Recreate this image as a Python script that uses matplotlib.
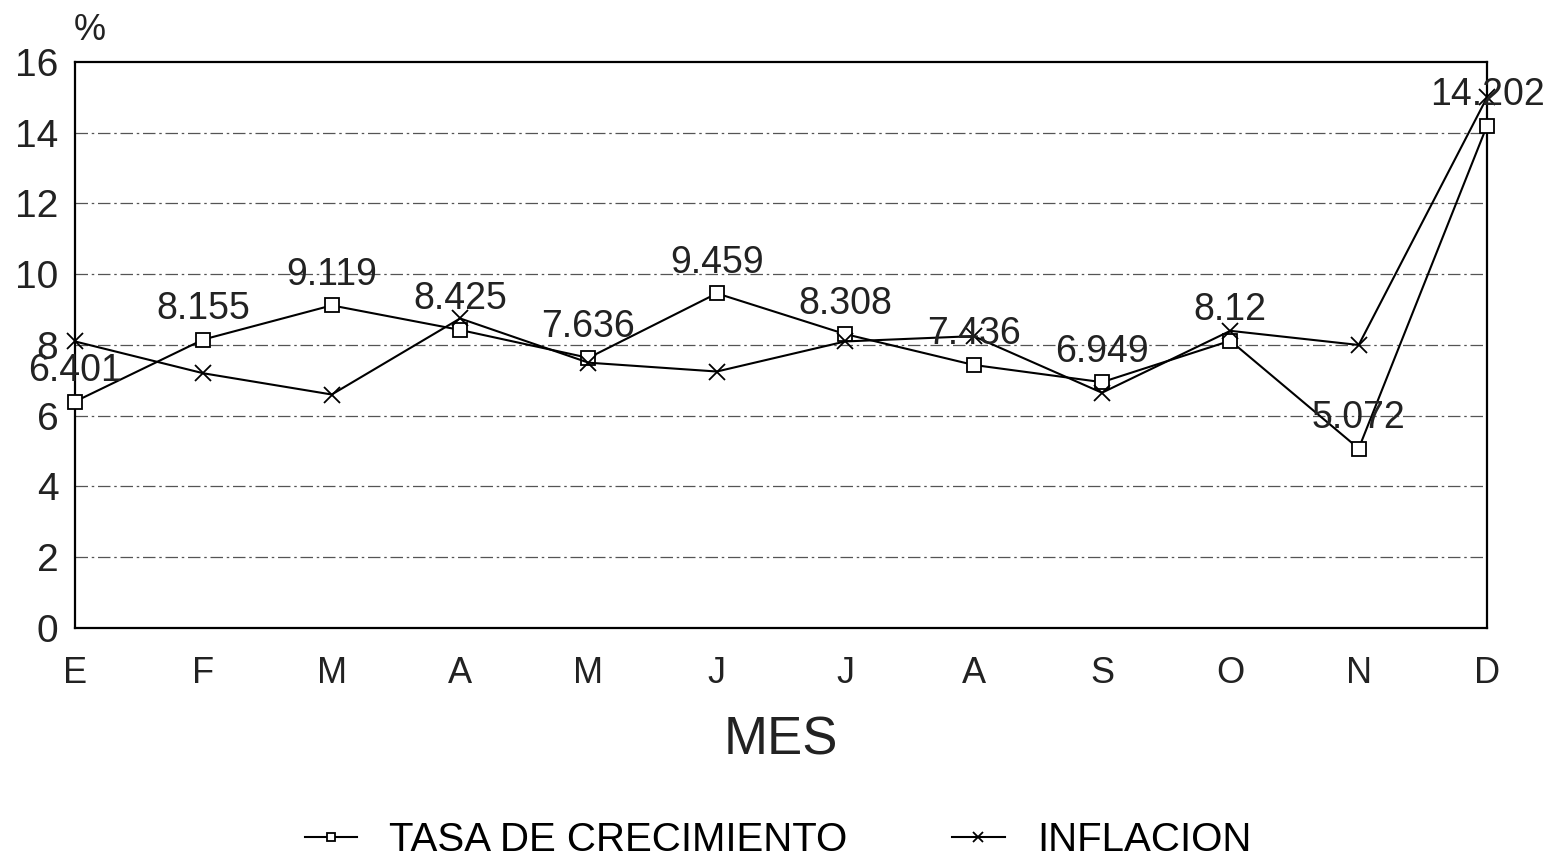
import matplotlib
matplotlib.use("Agg")
import matplotlib.pyplot as plt

months = ["E", "F", "M", "A", "M", "J", "J", "A", "S", "O", "N", "D"]
tasa = [6.401, 8.155, 9.119, 8.425, 7.636, 9.459, 8.308, 7.436, 6.949, 8.12, 5.072, 14.202]
inflacion = [8.1, 7.2, 6.6, 8.75, 7.5, 7.25, 8.1, 8.25, 6.65, 8.4, 8.0, 15.0]
yticks = [0, 2, 4, 6, 8, 10, 12, 14, 16]

plt.rcParams['font.family'] = ['Liberation Sans', 'DejaVu Sans']

fig = plt.figure(figsize=(15.56, 8.63), dpi=100)
ax = fig.add_axes([0.0482, 0.2723, 0.9075, 0.6559])

x = list(range(len(months)))
ax.plot(x, tasa, color='black', lw=1.5, marker='s', markersize=10,
        markerfacecolor='white', markeredgecolor='black', markeredgewidth=1.3,
        label='TASA DE CRECIMIENTO', zorder=3, clip_on=False)
ax.plot(x, inflacion, color='black', lw=1.5, marker='x', markersize=12,
        markeredgewidth=1.3, label='INFLACION', zorder=3, clip_on=False)

for xi, v in zip(x, tasa):
    ax.annotate(f"{v:g}", (xi, v), xytext=(0, 22), textcoords='offset points',
                ha='center', va='center', fontsize=27, color='#222222', zorder=4)

ax.set_xlim(0, 11)
ax.set_ylim(0, 16)
ax.set_yticks(yticks)
ax.set_yticklabels([str(t) for t in yticks], fontsize=28, color='#222222')
ax.set_xticks(x)
ax.set_xticklabels(months, fontsize=26, color='#222222')
ax.tick_params(axis='both', length=0)
ax.tick_params(axis='x', pad=20)
ax.tick_params(axis='y', pad=12)
for t in yticks[1:-1]:
    ax.axhline(t, color='#555555', lw=0.9, linestyle=(0, (10, 3, 2, 3)), zorder=1)
for s in ax.spines.values():
    s.set_linewidth(1.6)
    s.set_color('black')

ax.set_xlabel('MES', fontsize=38, color='#222222', labelpad=18)
fig.text(0.058, 0.965, '%', fontsize=26, ha='center', va='center', color='#222222')

fig.legend(loc='center', bbox_to_anchor=(0.5, 0.027), ncol=2, frameon=False,
           fontsize=29, handlelength=1.3, handletextpad=0.8, columnspacing=2.6,
           markerscale=0.6)

fig.savefig('out.png', dpi=100)
